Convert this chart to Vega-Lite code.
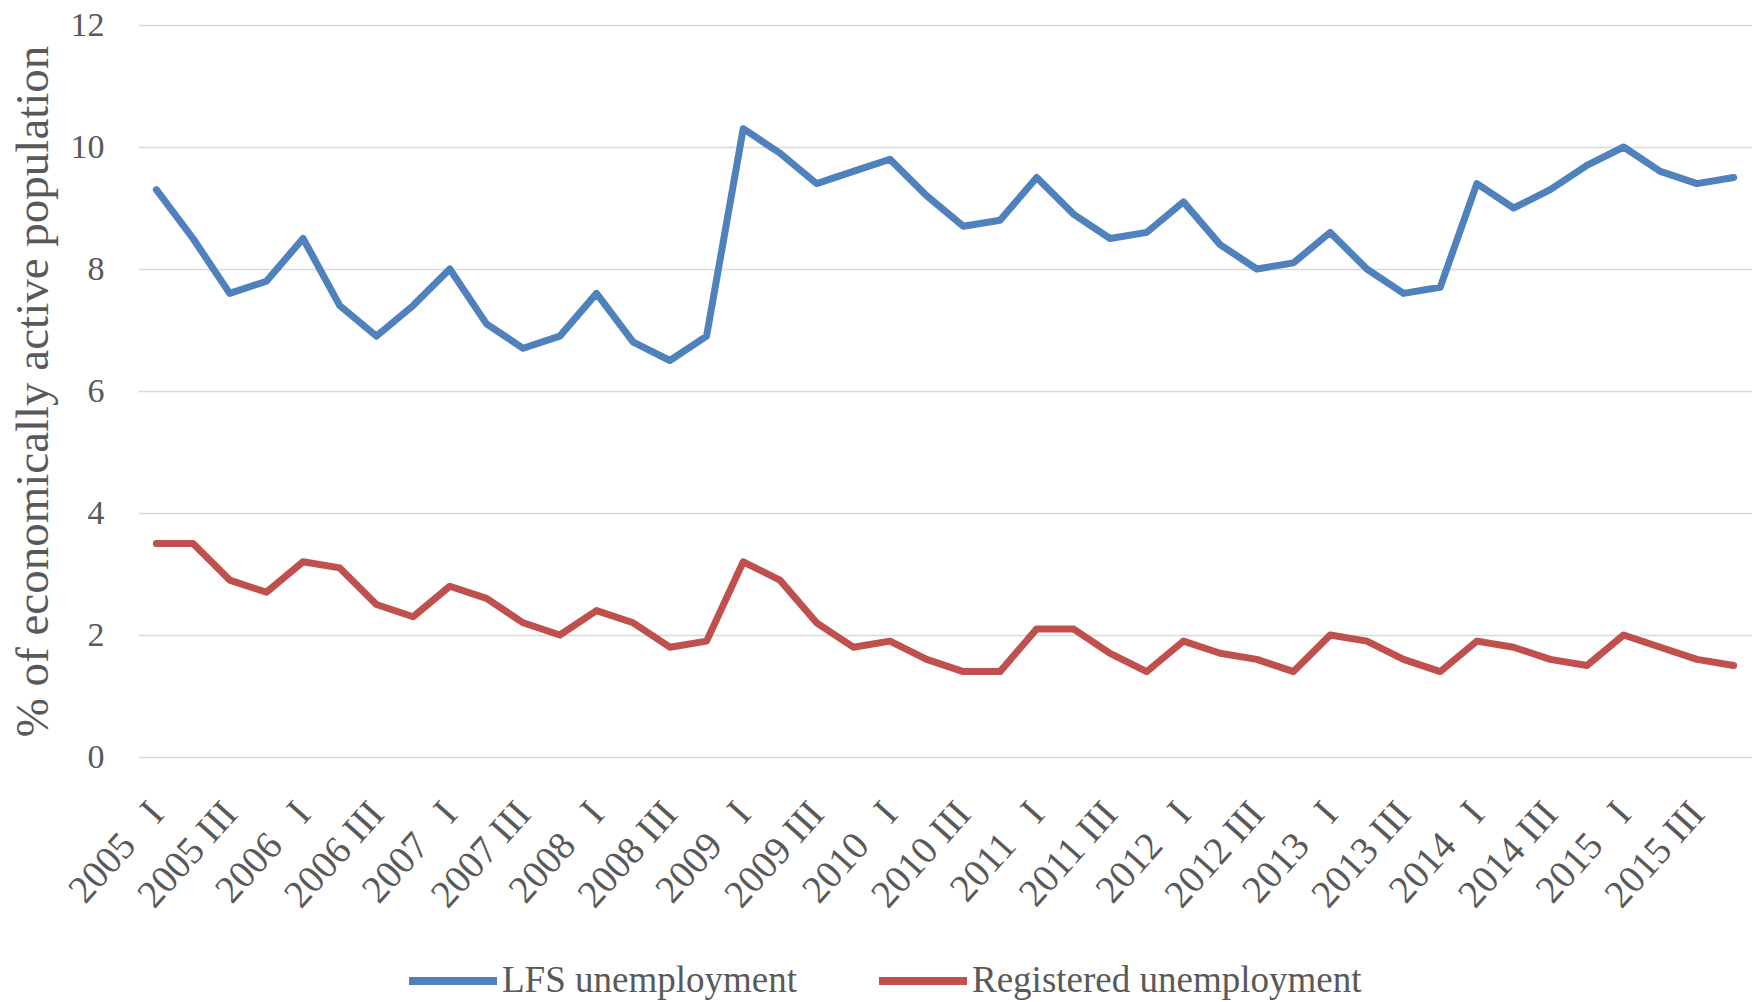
{
  "$schema": "https://vega.github.io/schema/vega-lite/v6.json",
  "width": 1614,
  "height": 732,
  "autosize": "none",
  "padding": {"left": 138, "top": 25, "right": 0, "bottom": 245},
  "background": "white",
  "config": {
    "font": "Liberation Serif",
    "view": {"stroke": null}
  },
  "data": {
    "values": [
      {"period": "2005 I", "series": "LFS unemployment", "value": 9.3},
      {"period": "2005 II", "series": "LFS unemployment", "value": 8.5},
      {"period": "2005 III", "series": "LFS unemployment", "value": 7.6},
      {"period": "2005 IV", "series": "LFS unemployment", "value": 7.8},
      {"period": "2006 I", "series": "LFS unemployment", "value": 8.5},
      {"period": "2006 II", "series": "LFS unemployment", "value": 7.4},
      {"period": "2006 III", "series": "LFS unemployment", "value": 6.9},
      {"period": "2006 IV", "series": "LFS unemployment", "value": 7.4},
      {"period": "2007 I", "series": "LFS unemployment", "value": 8.0},
      {"period": "2007 II", "series": "LFS unemployment", "value": 7.1},
      {"period": "2007 III", "series": "LFS unemployment", "value": 6.7},
      {"period": "2007 IV", "series": "LFS unemployment", "value": 6.9},
      {"period": "2008 I", "series": "LFS unemployment", "value": 7.6},
      {"period": "2008 II", "series": "LFS unemployment", "value": 6.8},
      {"period": "2008 III", "series": "LFS unemployment", "value": 6.5},
      {"period": "2008 IV", "series": "LFS unemployment", "value": 6.9},
      {"period": "2009 I", "series": "LFS unemployment", "value": 10.3},
      {"period": "2009 II", "series": "LFS unemployment", "value": 9.9},
      {"period": "2009 III", "series": "LFS unemployment", "value": 9.4},
      {"period": "2009 IV", "series": "LFS unemployment", "value": 9.6},
      {"period": "2010 I", "series": "LFS unemployment", "value": 9.8},
      {"period": "2010 II", "series": "LFS unemployment", "value": 9.2},
      {"period": "2010 III", "series": "LFS unemployment", "value": 8.7},
      {"period": "2010 IV", "series": "LFS unemployment", "value": 8.8},
      {"period": "2011 I", "series": "LFS unemployment", "value": 9.5},
      {"period": "2011 II", "series": "LFS unemployment", "value": 8.9},
      {"period": "2011 III", "series": "LFS unemployment", "value": 8.5},
      {"period": "2011 IV", "series": "LFS unemployment", "value": 8.6},
      {"period": "2012 I", "series": "LFS unemployment", "value": 9.1},
      {"period": "2012 II", "series": "LFS unemployment", "value": 8.4},
      {"period": "2012 III", "series": "LFS unemployment", "value": 8.0},
      {"period": "2012 IV", "series": "LFS unemployment", "value": 8.1},
      {"period": "2013 I", "series": "LFS unemployment", "value": 8.6},
      {"period": "2013 II", "series": "LFS unemployment", "value": 8.0},
      {"period": "2013 III", "series": "LFS unemployment", "value": 7.6},
      {"period": "2013 IV", "series": "LFS unemployment", "value": 7.7},
      {"period": "2014 I", "series": "LFS unemployment", "value": 9.4},
      {"period": "2014 II", "series": "LFS unemployment", "value": 9.0},
      {"period": "2014 III", "series": "LFS unemployment", "value": 9.3},
      {"period": "2014 IV", "series": "LFS unemployment", "value": 9.7},
      {"period": "2015 I", "series": "LFS unemployment", "value": 10.0},
      {"period": "2015 II", "series": "LFS unemployment", "value": 9.6},
      {"period": "2015 III", "series": "LFS unemployment", "value": 9.4},
      {"period": "2015 IV", "series": "LFS unemployment", "value": 9.5},
      {"period": "2005 I", "series": "Registered unemployment", "value": 3.5},
      {"period": "2005 II", "series": "Registered unemployment", "value": 3.5},
      {"period": "2005 III", "series": "Registered unemployment", "value": 2.9},
      {"period": "2005 IV", "series": "Registered unemployment", "value": 2.7},
      {"period": "2006 I", "series": "Registered unemployment", "value": 3.2},
      {"period": "2006 II", "series": "Registered unemployment", "value": 3.1},
      {"period": "2006 III", "series": "Registered unemployment", "value": 2.5},
      {"period": "2006 IV", "series": "Registered unemployment", "value": 2.3},
      {"period": "2007 I", "series": "Registered unemployment", "value": 2.8},
      {"period": "2007 II", "series": "Registered unemployment", "value": 2.6},
      {"period": "2007 III", "series": "Registered unemployment", "value": 2.2},
      {"period": "2007 IV", "series": "Registered unemployment", "value": 2.0},
      {"period": "2008 I", "series": "Registered unemployment", "value": 2.4},
      {"period": "2008 II", "series": "Registered unemployment", "value": 2.2},
      {"period": "2008 III", "series": "Registered unemployment", "value": 1.8},
      {"period": "2008 IV", "series": "Registered unemployment", "value": 1.9},
      {"period": "2009 I", "series": "Registered unemployment", "value": 3.2},
      {"period": "2009 II", "series": "Registered unemployment", "value": 2.9},
      {"period": "2009 III", "series": "Registered unemployment", "value": 2.2},
      {"period": "2009 IV", "series": "Registered unemployment", "value": 1.8},
      {"period": "2010 I", "series": "Registered unemployment", "value": 1.9},
      {"period": "2010 II", "series": "Registered unemployment", "value": 1.6},
      {"period": "2010 III", "series": "Registered unemployment", "value": 1.4},
      {"period": "2010 IV", "series": "Registered unemployment", "value": 1.4},
      {"period": "2011 I", "series": "Registered unemployment", "value": 2.1},
      {"period": "2011 II", "series": "Registered unemployment", "value": 2.1},
      {"period": "2011 III", "series": "Registered unemployment", "value": 1.7},
      {"period": "2011 IV", "series": "Registered unemployment", "value": 1.4},
      {"period": "2012 I", "series": "Registered unemployment", "value": 1.9},
      {"period": "2012 II", "series": "Registered unemployment", "value": 1.7},
      {"period": "2012 III", "series": "Registered unemployment", "value": 1.6},
      {"period": "2012 IV", "series": "Registered unemployment", "value": 1.4},
      {"period": "2013 I", "series": "Registered unemployment", "value": 2.0},
      {"period": "2013 II", "series": "Registered unemployment", "value": 1.9},
      {"period": "2013 III", "series": "Registered unemployment", "value": 1.6},
      {"period": "2013 IV", "series": "Registered unemployment", "value": 1.4},
      {"period": "2014 I", "series": "Registered unemployment", "value": 1.9},
      {"period": "2014 II", "series": "Registered unemployment", "value": 1.8},
      {"period": "2014 III", "series": "Registered unemployment", "value": 1.6},
      {"period": "2014 IV", "series": "Registered unemployment", "value": 1.5},
      {"period": "2015 I", "series": "Registered unemployment", "value": 2.0},
      {"period": "2015 II", "series": "Registered unemployment", "value": 1.8},
      {"period": "2015 III", "series": "Registered unemployment", "value": 1.6},
      {"period": "2015 IV", "series": "Registered unemployment", "value": 1.5}
    ]
  },
  "mark": {"type": "line", "strokeWidth": 7, "strokeJoin": "round", "strokeCap": "round"},
  "encoding": {
    "x": {
      "field": "period",
      "type": "ordinal",
      "sort": null,
      "scale": {"type": "point", "padding": 0.5},
      "axis": {
        "title": null,
        "values": ["2005 I", "2005 III", "2006 I", "2006 III", "2007 I", "2007 III", "2008 I", "2008 III", "2009 I", "2009 III", "2010 I", "2010 III", "2011 I", "2011 III", "2012 I", "2012 III", "2013 I", "2013 III", "2014 I", "2014 III", "2015 I", "2015 III"],
        "labelExpr": "length(datum.label) == 6 ? slice(datum.label, 0, 4) + '\u00a0\u00a0\u00a0I' : datum.label",
        "labelAngle": -48,
        "labelAlign": "right",
        "labelBaseline": "middle",
        "labelFontSize": 39,
        "labelColor": "#595959",
        "labelPadding": 50,
        "labelOverlap": false,
        "labelBound": false,
        "labelLimit": 400,
        "ticks": false,
        "domain": false,
        "grid": false
      }
    },
    "y": {
      "field": "value",
      "type": "quantitative",
      "scale": {"domain": [0, 12], "nice": false, "zero": true},
      "axis": {
        "title": "% of economically active population",
        "values": [0, 2, 4, 6, 8, 10, 12],
        "labelFontSize": 34,
        "labelColor": "#595959",
        "labelPadding": 34,
        "ticks": false,
        "domain": false,
        "grid": true,
        "gridColor": "#D9D9D9",
        "gridWidth": 1.5,
        "titleFontSize": 47,
        "titleFontWeight": "normal",
        "titleColor": "#595959",
        "titleAngle": -90,
        "titleX": -105,
        "titleY": 366,
        "titleAlign": "center",
        "titleBaseline": "middle"
      }
    },
    "color": {
      "field": "series",
      "type": "nominal",
      "scale": {"domain": ["LFS unemployment", "Registered unemployment"], "range": ["#4F81BD", "#C0504D"]},
      "legend": {
        "title": null,
        "orient": "none",
        "legendX": 267,
        "legendY": 908,
        "direction": "horizontal",
        "symbolType": "stroke",
        "symbolSize": 7744,
        "symbolStrokeWidth": 8,
        "labelFontSize": 37,
        "labelColor": "#595959",
        "labelOffset": 1,
        "labelLimit": 600,
        "columnPadding": 66,
        "padding": 0
      }
    }
  }
}
